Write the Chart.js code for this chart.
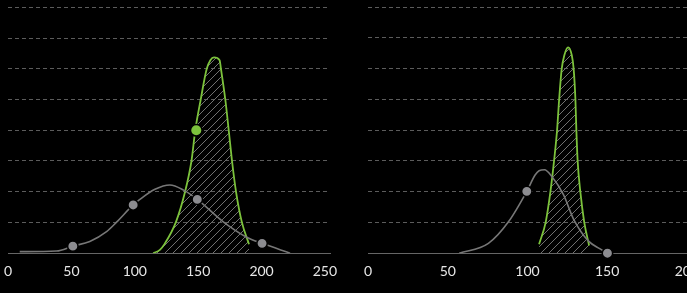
<!DOCTYPE html>
<html>
<head>
<meta charset="utf-8">
<script src="https://cdn.jsdelivr.net/npm/chart.js@4/dist/chart.umd.min.js"></script>
<style>
  body { margin: 0; background: #000; overflow: hidden; width: 687px; height: 293px; }
  .panel { position: absolute; top: 0; width: 360px; height: 293px; }
</style>
</head>
<body>
<div class="panel" style="left:-6px"><canvas id="chart-left"></canvas></div>
<div class="panel" style="left:354px"><canvas id="chart-right"></canvas></div>
<script>
// left panel
const leftGreenX = [114.5, 119.8, 123.8, 132.5, 139.6, 144.7, 147.7, 152, 156.7, 159.6, 162.5, 166.9, 168, 171.4, 174.1, 176.7, 179.9, 184.4, 190.1];
const leftGreenY = [0, 0.11, 0.32, 1.02, 1.99, 3.0, 4.0, 5.0, 5.99, 6.28, 6.37, 6.28, 5.99, 5.0, 4.0, 3.0, 1.99, 1.02, 0.29];
const leftGreyX = [9.2, 38.2, 51.1, 64.5, 77.7, 85.6, 98.7, 104, 115.9, 127.7, 138.2, 149.3, 169.8, 188.3, 200.4, 222.5];
const leftGreyY = [0.05, 0.07, 0.23, 0.38, 0.7, 1.01, 1.57, 1.75, 2.08, 2.22, 2.06, 1.75, 1.02, 0.52, 0.32, 0];
const leftGreyDotsX = [51.1, 98.7, 149.3, 200.4];
const leftGreyDotsY = [0.23, 1.57, 1.75, 0.32];
const leftGreenDotsX = [148.5];
const leftGreenDotsY = [4.0];

// right panel
const rightGreenX = [107.3, 111.5, 114.4, 116.7, 118.6, 119.9, 121.5, 123.2, 125.5, 127.8, 129.0, 130.1, 130.7, 131.5, 133.2, 135.6, 138.7];
const rightGreenY = [0.29, 1.02, 1.99, 3.0, 4.0, 5.0, 5.99, 6.44, 6.69, 6.44, 5.99, 5.0, 4.0, 3.0, 1.99, 1.02, 0.25];
const rightGreyX = [57.2, 75.5, 88.1, 99.6, 104.8, 107.3, 110.7, 115.2, 122.6, 129, 138.2, 145.6, 150.2];
const rightGreyY = [0, 0.32, 1.02, 2.01, 2.54, 2.68, 2.71, 2.5, 1.9, 1.1, 0.4, 0.14, 0];
const rightGreyDotsX = [99.6, 150.2];
const rightGreyDotsY = [2.01, 0];
const rightGreenDotsX = [];
const rightGreenDotsY = [];

const xTicks = [0, 50, 100, 150, 200, 250];

const GREEN = "#7cc23c";
const GREY_LINE = "#777777";
const GREY_DOT = "#8c8c90";

const hatch = () => {
  const c = document.createElement("canvas");
  c.width = 8;
  c.height = 8;
  const g = c.getContext("2d");
  g.strokeStyle = "#707070";
  g.lineWidth = 1;
  g.beginPath();
  g.moveTo(0, 8); g.lineTo(8, 0);
  g.moveTo(-2, 2); g.lineTo(2, -2);
  g.moveTo(6, 10); g.lineTo(10, 6);
  g.stroke();
  return g.createPattern(c, "repeat");
};

const pts = (xs, ys) => xs.map((x, i) => ({ x, y: ys[i] }));

const makeChart = (id, d) => {
  new Chart(document.getElementById(id), {
    type: "scatter",
    data: {
      datasets: [
        {
          data: pts(d.greenX, d.greenY),
          showLine: true,
          borderColor: GREEN,
          borderWidth: 1.8,
          backgroundColor: hatch(),
          fill: "origin",
          pointRadius: 0,
          cubicInterpolationMode: "monotone",
          order: 4,
        },
        {
          data: pts(d.greyX, d.greyY),
          showLine: true,
          borderColor: GREY_LINE,
          borderWidth: 1.6,
          pointRadius: 0,
          cubicInterpolationMode: "monotone",
          order: 3,
        },
        {
          data: pts(d.greyDotsX, d.greyDotsY),
          pointRadius: 5.2,
          pointBackgroundColor: GREY_DOT,
          pointBorderColor: "#000",
          pointBorderWidth: 1.5,
          clip: false,
          order: 2,
        },
        {
          data: pts(d.greenDotsX, d.greenDotsY),
          pointRadius: 5.8,
          pointBackgroundColor: GREEN,
          pointBorderColor: "#000",
          pointBorderWidth: 1.5,
          clip: false,
          order: 1,
        },
      ],
    },
    options: {
      responsive: true,
      maintainAspectRatio: false,
      animation: false,
      layout: { padding: { left: 2, right: 24, top: 7, bottom: 3 } },
      scales: {
        x: {
          type: "linear",
          min: 0,
          max: d.xMax,
          grid: { display: false, drawTicks: false },
          border: { display: true, color: "#666", width: 1 },
          afterBuildTicks: (axis) => {
            axis.ticks = xTicks.filter((v) => v <= d.xMax).map((v) => ({ value: v }));
          },
          ticks: {
            color: "#e6e6e6",
            font: { family: "Lato", size: 14 },
            padding: 10,
            maxRotation: 0,
          },
        },
        y: {
          min: 0,
          max: 8,
          ticks: { display: false, stepSize: 1 },
          grid: {
            drawTicks: false,
            color: (ctx) => (ctx.tick && ctx.tick.value === 0 ? "rgba(0,0,0,0)" : "#5c5c5c"),
            lineWidth: 1,
          },
          border: { display: false, dash: [4, 3] },
        },
      },
      plugins: {
        legend: { display: false },
        tooltip: { enabled: false },
      },
    },
  });
};

makeChart("chart-left", {
  greenX: leftGreenX, greenY: leftGreenY,
  greyX: leftGreyX, greyY: leftGreyY,
  greyDotsX: leftGreyDotsX, greyDotsY: leftGreyDotsY,
  greenDotsX: leftGreenDotsX, greenDotsY: leftGreenDotsY,
  xMax: 254,
});

makeChart("chart-right", {
  greenX: rightGreenX, greenY: rightGreenY,
  greyX: rightGreyX, greyY: rightGreyY,
  greyDotsX: rightGreyDotsX, greyDotsY: rightGreyDotsY,
  greenDotsX: rightGreenDotsX, greenDotsY: rightGreenDotsY,
  xMax: 202,
});
</script>
</body>
</html>
